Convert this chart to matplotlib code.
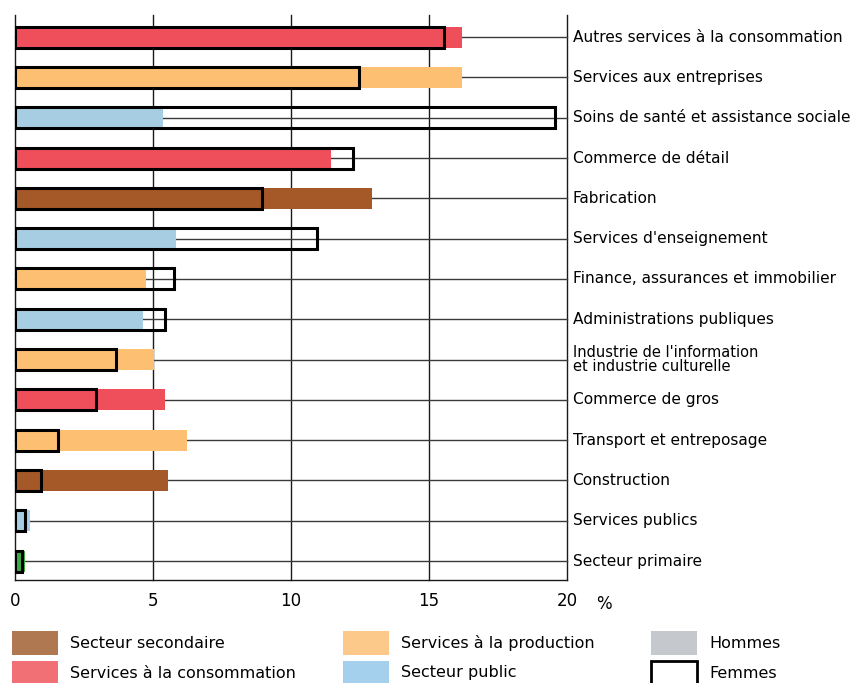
import matplotlib
matplotlib.use("Agg")
import matplotlib.pyplot as plt
from matplotlib.patches import Rectangle
import numpy as np

categories = [
    "Autres services à la consommation",
    "Services aux entreprises",
    "Soins de santé et assistance sociale",
    "Commerce de détail",
    "Fabrication",
    "Services d'enseignement",
    "Finance, assurances et immobilier",
    "Administrations publiques",
    "Industrie de l'information\net industrie culturelle",
    "Commerce de gros",
    "Transport et entreposage",
    "Construction",
    "Services publics",
    "Secteur primaire",
]
sectors = ["cons", "prod", "pub", "cons", "sec", "pub", "prod", "pub",
           "prod", "cons", "prod", "sec", "pub", "prim"]
hommes = [16.2, 16.2, 5.35, 11.45, 12.95, 5.85, 4.75, 4.65, 5.05, 5.45, 6.25, 5.55, 0.55, 0.35]
femmes = [15.55, 12.45, 19.55, 12.25, 8.95, 10.95, 5.75, 5.45, 3.65, 2.95, 1.55, 0.95, 0.35, 0.25]
xticks = [0, 5, 10, 15, 20]

bar_colors = {"cons": "#EF4F5B", "prod": "#FDBF71", "pub": "#A6CDE2",
              "sec": "#A55828", "prim": "#3DAA4A"}
legend_items = [
    ("Secteur secondaire", "#B07850", None),
    ("Services à la consommation", "#F07075", None),
    ("Services à la production", "#FDC98A", None),
    ("Secteur public", "#A4D0EE", None),
    ("Hommes", "#C5C8CD", None),
    ("Femmes", "white", "black"),
]

FONT = "DejaVu Sans"
plt.rcParams["font.family"] = [FONT]

fig = plt.figure(figsize=(8.53, 6.83), dpi=100)
ax = fig.add_axes([15/853, 1-580/683, (567-15)/853, (580-15)/683])

n = len(categories)
y = np.arange(n)
h = 0.52

# row lines
for yi in y:
    ax.plot([0, 20], [yi, yi], color="#3a3a3a", lw=1.0, zorder=1, clip_on=False)
# vertical grid
for xt in xticks:
    ax.axvline(xt, color="#1a1a1a", lw=1.0, zorder=0.5, clip_on=False)

ax.barh(y, hommes, height=h, color=[bar_colors[s] for s in sectors], zorder=2, linewidth=0)
ax.barh(y, femmes, height=h, facecolor="none", edgecolor="black", linewidth=2.2, zorder=3)

ax.set_xlim(0, 20)
ax.set_ylim(n - 1 + 0.47, -0.55)
ax.set_xticks(xticks)
ax.set_xticklabels([str(t) for t in xticks], fontsize=12)
ax.tick_params(axis="x", length=0, pad=9)
ax.set_yticks([])
for s in ["top", "left", "right"]:
    ax.spines[s].set_visible(False)
ax.spines["bottom"].set_color("#1a1a1a")
ax.spines["bottom"].set_linewidth(1.0)

for yi, cat in zip(y, categories):
    if "\n" in cat:
        ax.text(20.2, yi, cat, va="center", ha="left", fontsize=10.5, linespacing=0.85)
    else:
        ax.text(20.2, yi, cat, va="center", ha="left", fontsize=11.1)
ax.text(21.05, n - 1 + 1.06, "%", va="center", ha="left", fontsize=12)

# legend
cols_x = [12, 343, 651]
rows_y = [631, 661]
pw, ph = 46, 24
for i, (lab, fc, ec) in enumerate(legend_items):
    c, r = divmod(i, 2)
    x0 = cols_x[c]
    y0 = rows_y[r]
    rect = Rectangle((x0/853, 1-(y0+ph)/683), pw/853, ph/683, transform=fig.transFigure,
                     facecolor=fc, edgecolor=ec if ec else "none",
                     linewidth=2.0 if ec else 0)
    fig.patches.append(rect)
    fig.text((x0+pw+12)/853, 1-(y0+ph/2)/683, lab, va="center", ha="left", fontsize=11.5)

fig.savefig("out.png", dpi=100)
